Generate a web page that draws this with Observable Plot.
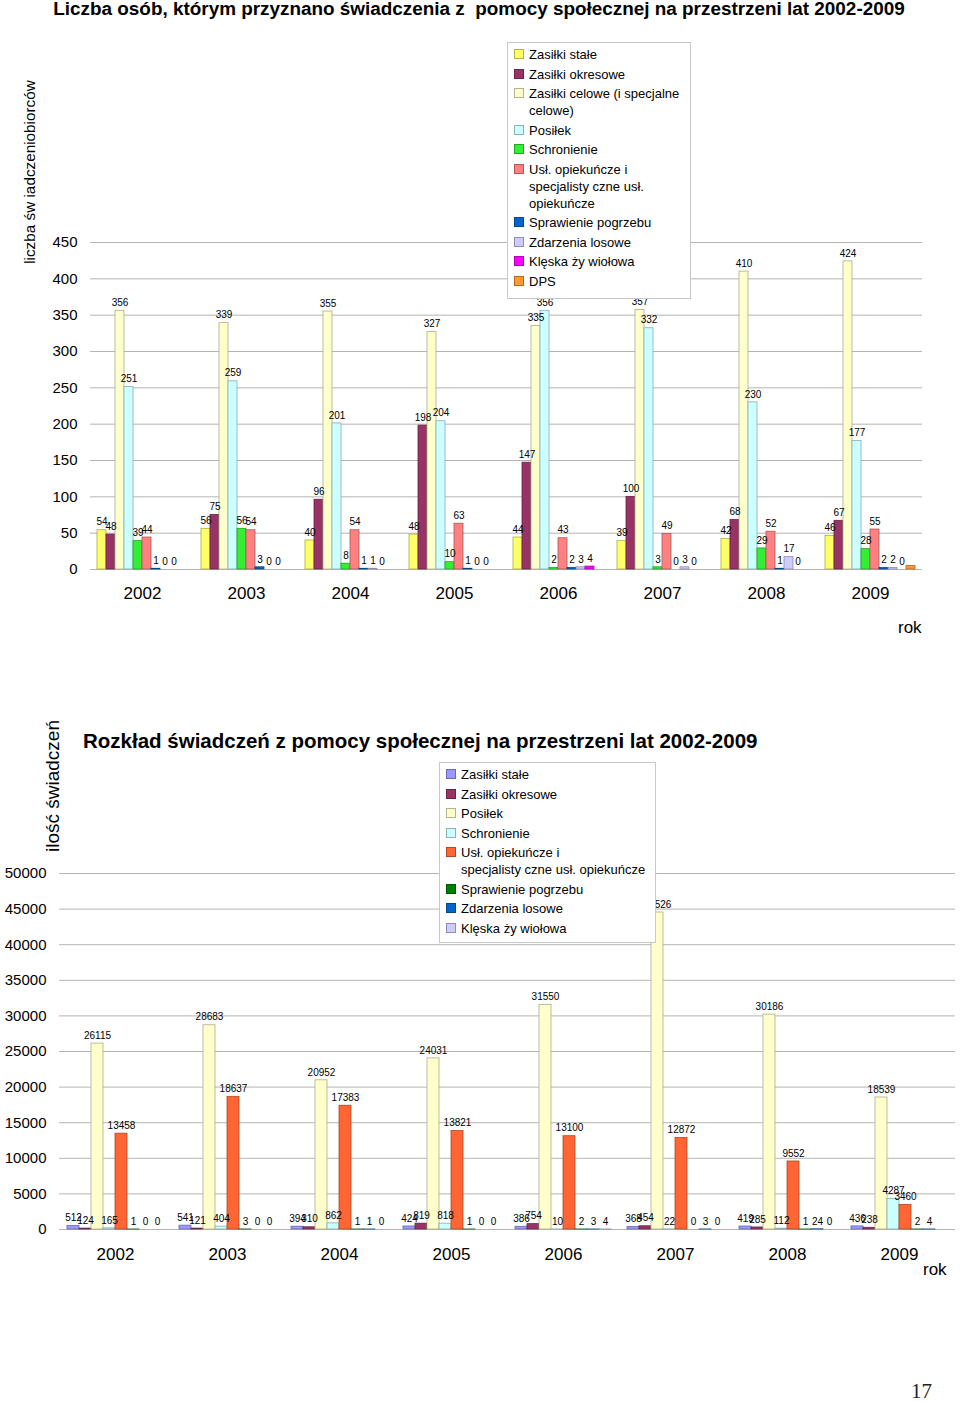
<!DOCTYPE html>
<html>
<head>
<meta charset="utf-8">
<script src="https://cdn.jsdelivr.net/npm/d3@7"></script>
<script src="https://cdn.jsdelivr.net/npm/@observablehq/plot@0.6"></script>
<style>
  html, body { margin: 0; padding: 0; background: #fff; }
  body { width: 960px; height: 1402px; position: relative; overflow: hidden; font-family: "Liberation Sans", Arial, sans-serif; color: #000; }
  .abs { position: absolute; }
  .title1 { left: 0; width: 958px; top: -2px; text-align: center; font-weight: bold; font-size: 18.9px; white-space: nowrap; }
  .title2 { left: 83px; top: 729px; font-weight: bold; font-size: 20.5px; white-space: nowrap; }
  .ylab1 { left: 30px; top: 172px; transform: translate(-50%, -50%) rotate(-90deg); font-size: 15.3px; white-space: nowrap; }
  .ylab2 { left: 53px; top: 786px; transform: translate(-50%, -50%) rotate(-90deg); font-size: 19px; white-space: nowrap; }
  .rok { font-size: 17px; }
  .legend { background: #fff; border: 1px solid #c8c8c8; z-index: 5; font-size: 13px; line-height: 17px; box-sizing: border-box; }
  .legend .item { position: relative; padding-left: 21px; margin-bottom: 2.5px; white-space: pre-line; }
  .legend .sw { position: absolute; left: 6px; top: 3px; width: 10px; height: 10px; box-sizing: border-box; border: 1px solid rgba(0,0,0,0.3); }
  .pagenum { left: 911px; top: 1379px; font-family: "Liberation Serif", "DejaVu Serif", serif; font-size: 21px; color: #222; }
  #chart1, #chart2 { position: absolute; left: 0; }
  #chart1 { top: 0; }
  #chart2 { top: 700px; }
</style>
</head>
<body>
<div class="abs title1">Liczba osób, którym przyznano świadczenia z&nbsp; pomocy społecznej na przestrzeni lat 2002-2009</div>
<div class="abs ylab1">liczba św iadczeniobiorców</div>
<div id="chart1"></div>
<div class="abs rok" style="left:898px; top:618px;">rok</div>
<div class="abs legend" id="legend1" style="left:507px; top:42px; width:184px; height:257px; padding-top:3px;"></div>

<div class="abs title2">Rozkład świadczeń z pomocy społecznej na przestrzeni lat 2002-2009</div>
<div class="abs ylab2">ilość świadczeń</div>
<div id="chart2"></div>
<div class="abs rok" style="left:923px; top:1260px;">rok</div>
<div class="abs legend" id="legend2" style="left:439px; top:762px; width:217px; height:181px; padding-top:3px;"></div>

<div class="abs pagenum">17</div>

<script>
// ---------- data: chart 1 (people) ----------
const years = ["2002", "2003", "2004", "2005", "2006", "2007", "2008", "2009"];

const topSeries = [
  "Zasiłki stałe",
  "Zasiłki okresowe",
  "Zasiłki celowe (i specjalne celowe)",
  "Posiłek",
  "Schronienie",
  "Usł. opiekuńcze i specjalisty czne usł. opiekuńcze",
  "Sprawienie pogrzebu",
  "Zdarzenia losowe",
  "Klęska ży wiołowa",
  "DPS"
];
const topLegendLabels = [
  "Zasiłki stałe",
  "Zasiłki okresowe",
  "Zasiłki celowe (i specjalne\ncelowe)",
  "Posiłek",
  "Schronienie",
  "Usł. opiekuńcze i\nspecjalisty czne usł.\nopiekuńcze",
  "Sprawienie pogrzebu",
  "Zdarzenia losowe",
  "Klęska ży wiołowa",
  "DPS"
];
const topColors = ["#ffff66", "#993366", "#ffffcc", "#ccffff", "#33ee33", "#ff8080", "#0066cc", "#ccccff", "#ff00ff", "#ff9933"];

const topZasilkiStale    = [54, 56, 40, 48, 44, 39, 42, 46];
const topZasilkiOkresowe = [48, 75, 96, 198, 147, 100, 68, 67];
const topZasilkiCelowe   = [356, 339, 355, 327, 335, 357, 410, 424];
const topPosilek         = [251, 259, 201, 204, 356, 332, 230, 177];
const topSchronienie     = [39, 56, 8, 10, 2, 3, 29, 28];
const topUslugi          = [44, 54, 54, 63, 43, 49, 52, 55];
const topPogrzeb         = [1, 3, 1, 1, 2, 0, 1, 2];
const topLosowe          = [0, 0, 1, 0, 3, 3, 17, 2];
const topKleska          = [0, 0, 0, 0, 4, 0, 0, 0];
const topDPS             = [null, null, null, null, null, null, null, 5];
const topLabelled        = [true, true, true, true, true, true, true, true, true, false];

// ---------- data: chart 2 (benefits) ----------
const botSeries = [
  "Zasiłki stałe",
  "Zasiłki okresowe",
  "Posiłek",
  "Schronienie",
  "Usł. opiekuńcze i specjalisty czne usł. opiekuńcze",
  "Sprawienie pogrzebu",
  "Zdarzenia losowe",
  "Klęska ży wiołowa"
];
const botLegendLabels = [
  "Zasiłki stałe",
  "Zasiłki okresowe",
  "Posiłek",
  "Schronienie",
  "Usł. opiekuńcze i\nspecjalisty czne usł. opiekuńcze",
  "Sprawienie pogrzebu",
  "Zdarzenia losowe",
  "Klęska ży wiołowa"
];
const botColors = ["#9999ff", "#993366", "#ffffcc", "#ccffff", "#ff6633", "#008000", "#0066cc", "#ccccff"];

const botZasilkiStale    = [512, 541, 394, 424, 386, 368, 419, 436];
const botZasilkiOkresowe = [124, 121, 310, 819, 754, 454, 285, 238];
const botPosilek         = [26115, 28683, 20952, 24031, 31550, 44526, 30186, 18539];
const botSchronienie     = [165, 404, 862, 818, 10, 22, 112, 4287];
const botUslugi          = [13458, 18637, 17383, 13821, 13100, 12872, 9552, 3460];
const botPogrzeb         = [1, 3, 1, 1, 2, 0, 1, 2];
const botLosowe          = [0, 0, 1, 0, 3, 3, 24, 4];
const botKleska          = [0, 0, 0, 0, 4, 0, 0, null];

// ---------- build tables ----------
function build(series, colors, arrays, labelled) {
  const rows = [];
  series.forEach((s, i) => {
    years.forEach((y, j) => {
      const v = arrays[i][j];
      if (v === null || v === undefined) return;
      rows.push({
        year: y, series: s, value: v,
        fill: colors[i],
        stroke: d3.color(colors[i]).darker(1.1).formatHex(),
        label: labelled ? labelled[i] : true
      });
    });
  });
  return rows;
}

const topData = build(topSeries, topColors,
  [topZasilkiStale, topZasilkiOkresowe, topZasilkiCelowe, topPosilek, topSchronienie,
   topUslugi, topPogrzeb, topLosowe, topKleska, topDPS], topLabelled);

const botData = build(botSeries, botColors,
  [botZasilkiStale, botZasilkiOkresowe, botPosilek, botSchronienie, botUslugi,
   botPogrzeb, botLosowe, botKleska], null);

function chart(data, series, opts) {
  return Plot.plot({
    width: 960,
    height: opts.height,
    marginTop: opts.marginTop,
    marginBottom: opts.marginBottom,
    marginLeft: opts.marginLeft,
    marginRight: opts.marginRight,
    style: { fontFamily: "'Liberation Sans', Arial, sans-serif", background: "transparent", color: "#000" },
    fx: { domain: years, padding: 0, label: null },
    x: { domain: series, paddingInner: 0, paddingOuter: opts.paddingOuter, axis: null },
    y: { domain: opts.yDomain, label: null },
    color: { type: "identity" },
    marks: [
      Plot.gridY({ ticks: opts.yTicks, stroke: "#b4b4b4", strokeOpacity: 1, strokeWidth: 1 }),
      Plot.axisY({ ticks: opts.yTicks, tickFormat: d => String(d), tickSize: 0, tickPadding: opts.yPad, fontSize: 15, label: null }),
      Plot.axisFx({ anchor: "bottom", tickSize: 0, tickPadding: opts.fxPad, fontSize: 17, label: null }),
      Plot.barY(data, { fx: "year", x: "series", y: "value", fill: "fill", stroke: "stroke", strokeWidth: 0.8 }),
      Plot.text(data.filter(d => d.label), {
        fx: "year", x: "series", y: "value", text: d => String(d.value),
        dy: -8, fontSize: opts.labelSize, fill: "#000"
      })
    ]
  });
}

document.getElementById("chart1").appendChild(chart(topData, topSeries, {
  height: 650, marginTop: 242, marginBottom: 81, marginLeft: 88, marginRight: 37,
  paddingOuter: 0.45, yDomain: [0, 450], yTicks: d3.range(0, 451, 50),
  yPad: 13, fxPad: 17, labelSize: 10
}));

document.getElementById("chart2").appendChild(chart(botData, botSeries, {
  height: 600, marginTop: 173, marginBottom: 71, marginLeft: 58, marginRight: 4,
  paddingOuter: 0.49, yDomain: [0, 50000], yTicks: d3.range(0, 50001, 5000),
  yPad: 13, fxPad: 18, labelSize: 10
}));

// ---------- legends ----------
function legend(el, labels, colors) {
  labels.forEach((s, i) => {
    const item = document.createElement("div");
    item.className = "item";
    const sw = document.createElement("span");
    sw.className = "sw";
    sw.style.background = colors[i];
    item.appendChild(sw);
    item.appendChild(document.createTextNode(s));
    el.appendChild(item);
  });
}
legend(document.getElementById("legend1"), topLegendLabels, topColors);
legend(document.getElementById("legend2"), botLegendLabels, botColors);
</script>
</body>
</html>
